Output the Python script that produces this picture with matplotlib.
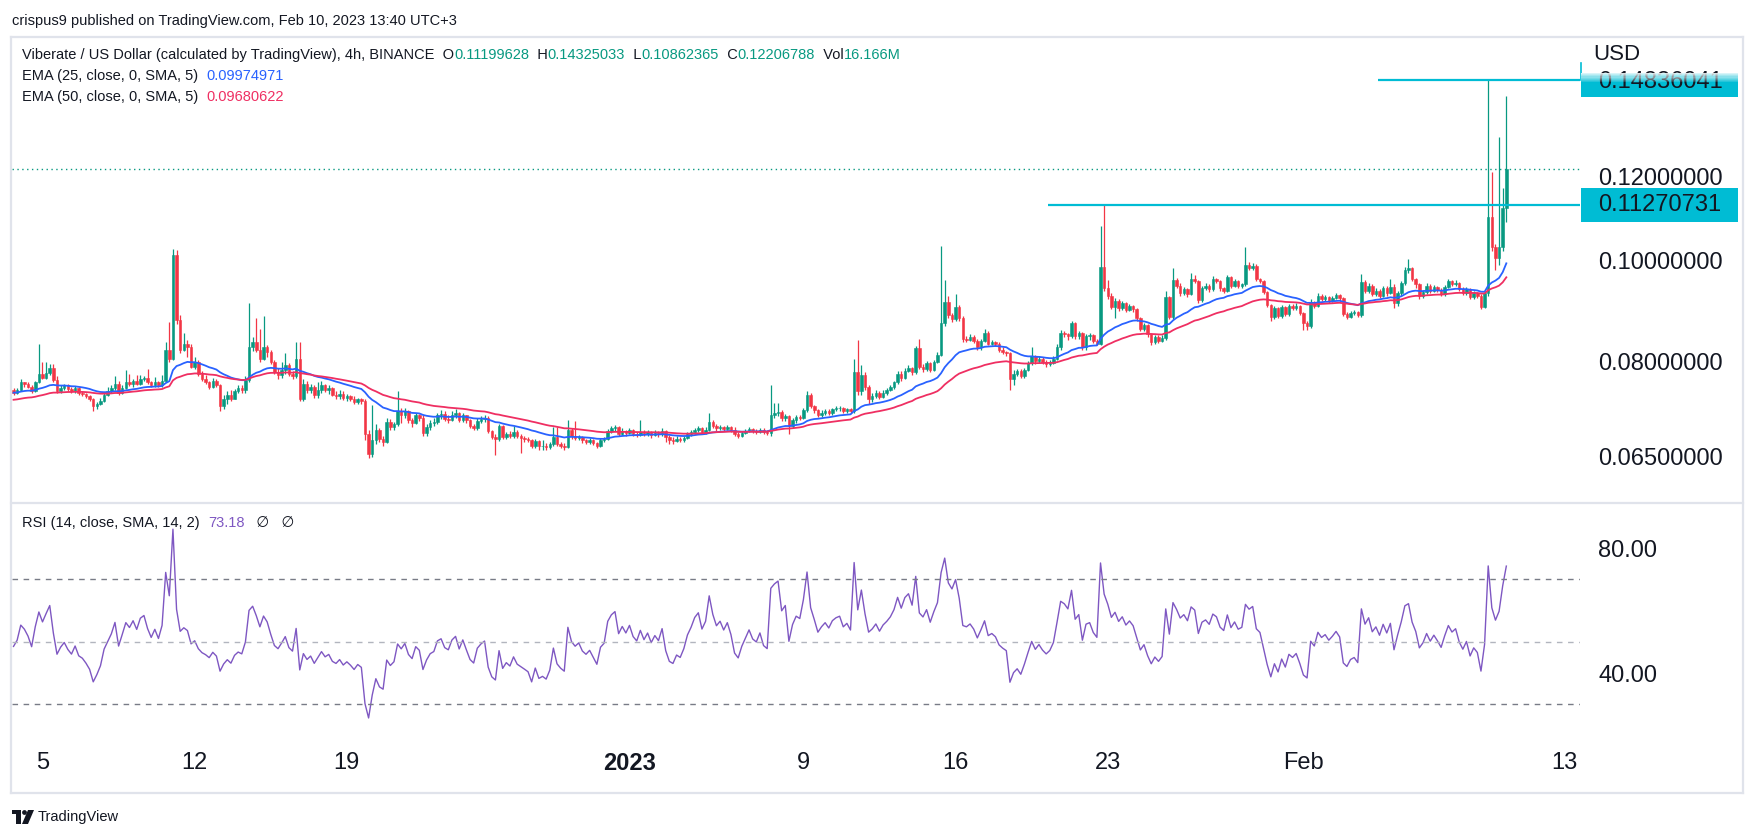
import numpy as np
import pandas as pd
import matplotlib
matplotlib.use("Agg")
import matplotlib.pyplot as plt
from matplotlib import transforms
from matplotlib.patches import Rectangle, Polygon, Circle
from matplotlib.ticker import NullLocator

plt.rcParams['font.family'] = ['Liberation Sans', 'DejaVu Sans']

W, H = 1756, 838

# VIB/USD 4h candles, prices in units of 1e-4 USD (open = previous close)
first_open = 752
close = [748, 753, 766, 763, 758, 750, 766, 780, 773, 781, 789, 769, 750, 756, 760, 754, 750, 756, 748, 746,
         742, 737, 726, 730, 735, 745, 750, 755, 763, 748, 756, 765, 762, 767, 762, 770, 772, 765, 760, 765,
         760, 768, 821, 806, 1011, 877, 822, 833, 826, 792, 800, 780, 770, 765, 758, 768, 760, 726, 738, 745,
         738, 750, 755, 752, 769, 826, 835, 822, 806, 826, 818, 800, 783, 778, 786, 795, 780, 775, 806, 738,
         763, 752, 757, 744, 752, 760, 752, 755, 745, 742, 746, 739, 742, 738, 733, 737, 734, 684, 654, 674,
         690, 676, 672, 702, 694, 698, 718, 712, 718, 705, 700, 712, 708, 685, 694, 700, 702, 712, 714, 706,
         704, 712, 715, 705, 712, 704, 696, 693, 703, 706, 708, 688, 679, 676, 695, 679, 683, 680, 686, 680,
         678, 676, 674, 666, 673, 665, 666, 664, 668, 679, 669, 666, 664, 689, 680, 677, 679, 674, 672, 674,
         670, 666, 674, 676, 688, 692, 694, 684, 688, 685, 689, 684, 682, 687, 683, 686, 682, 685, 683, 688,
         679, 674, 673, 676, 675, 678, 683, 686, 690, 692, 687, 690, 702, 696, 692, 694, 691, 694, 690, 683,
         681, 685, 688, 691, 688, 687, 690, 686, 685, 712, 715, 717, 707, 710, 695, 704, 709, 708, 720, 745,
         727, 720, 712, 716, 719, 716, 721, 723, 724, 719, 721, 718, 782, 750, 778, 757, 738, 742, 748, 741,
         748, 752, 757, 765, 780, 772, 785, 790, 782, 824, 792, 788, 798, 786, 800, 813, 871, 913, 886, 879,
         902, 880, 842, 840, 845, 838, 826, 838, 852, 833, 836, 832, 822, 818, 815, 770, 780, 784, 776, 786,
         798, 810, 801, 806, 800, 796, 799, 806, 826, 852, 850, 846, 871, 846, 852, 826, 846, 848, 838, 833,
         985, 941, 925, 903, 915, 900, 910, 897, 905, 898, 880, 860, 868, 850, 836, 845, 838, 844, 922, 882,
         957, 945, 930, 938, 928, 960, 955, 916, 940, 945, 938, 959, 955, 940, 935, 963, 945, 955, 945, 948,
         989, 983, 988, 960, 955, 932, 906, 883, 900, 885, 902, 888, 905, 900, 905, 890, 871, 866, 912, 905,
         925, 918, 922, 915, 920, 926, 920, 888, 883, 890, 892, 886, 953, 935, 945, 928, 935, 925, 940, 930,
         943, 910, 930, 950, 978, 982, 960, 948, 925, 932, 945, 935, 943, 936, 928, 942, 955, 948, 952, 938,
         930, 938, 922, 930, 925, 903, 930, 1099, 1029, 1004, 1029, 1119.9628, 1220.6788]
high = [755, 756, 770, 766, 766, 760, 768, 833, 800, 800, 797, 797, 775, 760, 763, 762, 758, 759, 757, 751,
        748, 745, 739, 733, 740, 748, 757, 760, 775, 767, 760, 786, 779, 770, 777, 777, 775, 788, 768, 774,
        767, 777, 835, 874, 1024, 1022, 887, 852, 840, 833, 808, 803, 784, 777, 768, 772, 771, 763, 745, 750,
        752, 754, 760, 760, 775, 910, 845, 880, 860, 884, 830, 822, 803, 790, 800, 815, 798, 785, 836, 836,
        770, 768, 762, 760, 765, 768, 763, 760, 758, 750, 752, 750, 746, 745, 742, 740, 740, 737, 690, 728,
        698, 693, 680, 707, 706, 702, 750, 724, 724, 720, 708, 716, 714, 712, 698, 704, 708, 716, 720, 718,
        712, 718, 722, 717, 716, 713, 706, 698, 707, 710, 712, 710, 690, 684, 698, 697, 686, 688, 695, 690,
        684, 681, 679, 676, 676, 675, 675, 670, 672, 694, 694, 672, 670, 704, 692, 703, 682, 680, 676, 677,
        676, 672, 677, 679, 691, 696, 697, 695, 692, 690, 693, 691, 687, 705, 689, 690, 688, 689, 688, 692,
        690, 682, 679, 680, 679, 681, 686, 690, 693, 695, 694, 694, 715, 705, 698, 697, 696, 697, 696, 694,
        686, 688, 691, 694, 693, 691, 693, 692, 690, 761, 731, 731, 720, 714, 712, 708, 713, 712, 724, 750,
        748, 728, 722, 720, 722, 721, 724, 727, 727, 725, 724, 723, 806, 839, 795, 782, 760, 748, 752, 750,
        752, 756, 761, 768, 784, 785, 790, 795, 792, 828, 841, 796, 802, 800, 804, 818, 1031, 957, 925, 890,
        928, 906, 884, 846, 850, 848, 842, 842, 860, 856, 840, 838, 836, 826, 820, 818, 786, 788, 788, 790,
        802, 827, 812, 810, 808, 804, 803, 810, 832, 858, 856, 853, 876, 874, 856, 855, 850, 852, 850, 842,
        1077, 1127.0731, 958, 930, 920, 918, 914, 912, 909, 907, 900, 882, 872, 870, 852, 848, 848, 848, 935, 925,
        983, 962, 950, 942, 940, 972, 968, 958, 945, 950, 948, 965, 962, 958, 942, 968, 966, 960, 958, 952,
        1029, 996, 993, 992, 962, 958, 935, 908, 905, 902, 906, 904, 909, 908, 910, 906, 893, 875, 918, 915,
        930, 928, 926, 924, 924, 930, 928, 922, 892, 894, 896, 894, 970, 958, 950, 948, 940, 938, 945, 944,
        960, 948, 934, 955, 985, 1003, 985, 962, 950, 936, 950, 948, 947, 945, 940, 946, 960, 958, 958, 954,
        942, 942, 940, 934, 933, 928, 934, 1483.6041, 1213, 1035, 1310, 1170, 1432.5033]
low = [745, 746, 750, 757, 755, 748, 749, 764, 770, 771, 778, 766, 747, 748, 753, 751, 747, 748, 745, 743,
       740, 734, 718, 722, 728, 733, 743, 748, 753, 745, 746, 754, 759, 758, 760, 760, 767, 762, 757, 758,
       757, 758, 765, 800, 804, 870, 815, 820, 808, 790, 788, 776, 768, 762, 754, 755, 757, 718, 722, 730,
       735, 737, 748, 748, 748, 765, 820, 818, 800, 803, 808, 797, 780, 770, 772, 780, 775, 770, 772, 735,
       735, 748, 748, 740, 740, 748, 749, 746, 742, 738, 738, 736, 735, 734, 730, 729, 730, 675, 648, 650,
       668, 672, 665, 670, 690, 690, 695, 700, 708, 700, 694, 698, 703, 680, 680, 690, 695, 698, 706, 703,
       700, 703, 708, 702, 702, 700, 693, 690, 690, 700, 702, 685, 676, 653, 673, 676, 676, 677, 678, 677,
       656, 672, 671, 662, 662, 660, 660, 660, 661, 665, 666, 662, 660, 662, 676, 674, 674, 670, 669, 669,
       667, 663, 664, 671, 674, 685, 688, 681, 682, 681, 683, 680, 679, 681, 680, 681, 678, 680, 679, 681,
       672, 668, 669, 671, 672, 671, 676, 681, 684, 687, 684, 684, 688, 693, 688, 689, 688, 689, 686, 680,
       677, 679, 683, 686, 685, 684, 685, 683, 682, 681, 708, 710, 703, 703, 684, 693, 700, 704, 706, 717,
       723, 716, 709, 709, 713, 712, 713, 718, 719, 716, 716, 715, 716, 745, 745, 752, 730, 733, 740, 738,
       739, 745, 750, 754, 762, 768, 770, 782, 778, 780, 788, 783, 785, 782, 784, 798, 810, 866, 880, 874,
       876, 876, 836, 835, 838, 834, 822, 822, 836, 830, 830, 828, 818, 814, 810, 752, 760, 776, 772, 772,
       784, 795, 797, 798, 796, 792, 793, 796, 803, 822, 845, 840, 844, 842, 842, 822, 822, 840, 834, 830,
       830, 935, 918, 898, 880, 895, 896, 892, 894, 893, 876, 856, 856, 845, 830, 832, 834, 835, 840, 878,
       878, 940, 925, 926, 922, 926, 950, 910, 912, 936, 933, 935, 950, 935, 930, 932, 940, 942, 940, 940,
       944, 978, 978, 955, 950, 928, 902, 876, 878, 880, 880, 884, 885, 896, 896, 886, 858, 858, 862, 900,
       903, 914, 914, 911, 912, 918, 915, 884, 879, 880, 886, 882, 883, 930, 930, 924, 925, 920, 922, 925,
       928, 900, 905, 925, 946, 972, 955, 940, 918, 920, 928, 930, 932, 932, 924, 925, 940, 944, 945, 934,
       926, 926, 918, 918, 920, 898, 900, 925, 1020, 978, 990, 1020, 1086.2365]
PRICE_UNIT = 1e-4
last_bar_open = "2023-02-10 08:00"

ema25_start = 0.0748
ema50_start = 0.0736
rsi_start_gain = 0.0005
rsi_start_loss = 0.0005

# drawn horizontal rays
levels = [0.14836041, 0.11270731]
level_from = ["2023-02-04 10:00", "2023-01-20 06:00"]
last_price = 0.12206788

day_ticks = ["2022-12-05", "2022-12-12", "2022-12-19", "2023-01-01", "2023-01-09",
             "2023-01-16", "2023-01-23", "2023-02-01", "2023-02-13"]
day_labels = ["5", "12", "19", "2023", "9", "16", "23", "Feb", "13"]
price_ticks = [0.065, 0.08, 0.10, 0.12]
rsi_ticks = [40, 80]

GREEN = "#089981"
RED = "#f23645"
TXT = "#131722"
CYAN = "#00bcd4"
GRID = "#e0e3eb"

# ---- data prep
c = np.array(close) * PRICE_UNIT
hi = np.array(high) * PRICE_UNIT
lo = np.array(low) * PRICE_UNIT
o = np.concatenate([[first_open * PRICE_UNIT], c[:-1]])
n = len(c)
times = pd.date_range(end=last_bar_open, periods=n, freq="4h")
origin = pd.Timestamp("2022-12-05")
t = np.asarray((times - origin) / pd.Timedelta(days=1))

def ema(x, length, start):
    a = 2.0 / (length + 1)
    out = np.empty(len(x))
    prev = start
    for i, v in enumerate(x):
        prev = prev + a * (v - prev)
        out[i] = prev
    return out

ema25 = ema(c, 25, ema25_start)
ema50 = ema(c, 50, ema50_start)

prev_c = np.concatenate([[o[0]], c[:-1]])
d = c - prev_c
ag, al = rsi_start_gain, rsi_start_loss
rsi = np.empty(n)
for i in range(n):
    ag = (ag * 13 + max(d[i], 0)) / 14
    al = (al * 13 + max(-d[i], 0)) / 14
    rsi[i] = 100 - 100 / (1 + ag / al)

# ---- figure
fig = plt.figure(figsize=(W / 100, H / 100), dpi=100)
fig.patch.set_facecolor("white")
pxT = transforms.Affine2D().scale(1.0 / W, -1.0 / H).translate(0, 1) + fig.transFigure

px_per_day = 21.74
day0_px = 42.5
xlim = ((12 - day0_px) / px_per_day, (1580 - day0_px) / px_per_day)

ax = fig.add_axes([12 / W, 1 - 503 / H, 1568 / W, 465 / H])
ax.set_yscale("log")
ax.set_xlim(*xlim)
ax.set_ylim(0.05875, 0.1626)

up = c >= o
cols = np.where(up, GREEN, RED)
ax.vlines(t, lo, hi, colors=cols, linewidth=0.9, zorder=2)
ax.bar(t, c - o, bottom=o, width=0.115, color=cols, edgecolor=cols, linewidth=0.4, zorder=3)
ax.plot(t, ema25, color="#2962ff", lw=1.3, zorder=4)
ax.plot(t, ema50, color="#ef2f62", lw=1.3, zorder=4)
ax.axhline(last_price, color=GREEN, lw=1.0, ls=(0, (1, 2.5)), zorder=1)

lf = np.asarray((pd.to_datetime(level_from) - origin) / pd.Timedelta(days=1))
ax.hlines(levels, lf, xlim[1], colors=CYAN, lw=1.6, zorder=5)

ax.yaxis.tick_right()
ax.set_yticks(price_ticks)
ax.set_yticklabels([f"{p:.8f}" for p in price_ticks])
ax.yaxis.set_minor_locator(NullLocator())
ax.tick_params(axis="y", length=0, pad=13, labelsize=17, labelcolor=TXT)
ax.set_xticks([])
for s in ax.spines.values():
    s.set_visible(False)

ax2 = fig.add_axes([12 / W, 1 - 740 / H, 1568 / W, 237 / H])
ax2.set_xlim(*xlim)
ax2.set_ylim(18.56, 94.4)
ax2.plot(t, rsi, color="#7e57c2", lw=1.0)
for lvl, colr in [(70, "#787b86"), (50, "#b2b5be"), (30, "#787b86")]:
    ax2.axhline(lvl, color=colr, lw=1.0, ls=(0, (4, 4)))
ax2.yaxis.tick_right()
ax2.set_yticks(rsi_ticks)
ax2.set_yticklabels([f"{v:.2f}" for v in rsi_ticks])
ax2.tick_params(axis="y", length=0, pad=13, labelsize=17, labelcolor=TXT)
ax2.set_xticks([])
for s in ax2.spines.values():
    s.set_visible(False)

# time axis labels
tick_t = np.asarray((pd.to_datetime(day_ticks) - origin) / pd.Timedelta(days=1))
bt = transforms.blended_transform_factory(ax2.transData, pxT)
for tt, lab in zip(tick_t, day_labels):
    ax2.text(tt, 763, lab, transform=bt, ha="center", va="center", fontsize=17, color=TXT,
             fontweight="bold" if lab == "2023" else "normal", clip_on=False)

# frame
for xs, ys in [((11, 1743), (37, 37)), ((11, 1743), (793, 793)), ((11, 11), (37, 793)),
               ((1743, 1743), (37, 793)), ((11, 1743), (503, 503))]:
    fig.add_artist(plt.Line2D(xs, ys, transform=pxT, color=GRID, lw=1.6))

# price labels for rays
fig.canvas.draw()
for k, lvl in enumerate(levels):
    py = H - ax.transData.transform((0, lvl))[1]
    if k == 0:
        top, bot, ty = py - 7, py + 17, py + 2
    else:
        top, bot, ty = py - 17, py + 17, py
    fig.add_artist(Rectangle((1581, top), 157, bot - top, transform=pxT, color=CYAN, lw=0))
    fig.text(1598 / W, 1 - ty / H, f"{lvl:.8f}", fontsize=17, color=TXT, va="center")
    if k == 0:
        for j in range(8):
            fig.add_artist(Rectangle((1581, top + j * 1.2), 157, 1.2, transform=pxT,
                                     color="white", alpha=0.85 - j * 0.1, lw=0, zorder=10))
        fig.add_artist(plt.Line2D((1581, 1581), (63, py), transform=pxT, color=CYAN, lw=1.2))
fig.text(1593 / W, 1 - 54 / H, "USD", fontsize=16, color=TXT, va="center", zorder=11)

# header and legends
fig.text(12 / W, 1 - 21 / H, "crispus9 published on TradingView.com, Feb 10, 2023 13:40 UTC+3",
         fontsize=10.5, color=TXT, va="center")

renderer = fig.canvas.get_renderer()

def chain(x, y, parts, size=10.5):
    for s, colr in parts:
        tx = fig.text(x / W, 1 - y / H, s, fontsize=size, color=colr, va="center")
        bb = tx.get_window_extent(renderer=renderer)
        x += bb.width

chain(22, 55, [("Viberate / US Dollar (calculated by TradingView), 4h, BINANCE  O", TXT),
               ("0.11199628", GREEN), ("  H", TXT), ("0.14325033", GREEN), ("  L", TXT),
               ("0.10862365", GREEN), ("  C", TXT), ("0.12206788", GREEN), ("  Vol", TXT),
               ("16.166M", GREEN)])
chain(22, 76, [("EMA (25, close, 0, SMA, 5)  ", TXT), ("0.09974971", "#2962ff")])
chain(22, 97, [("EMA (50, close, 0, SMA, 5)  ", TXT), ("0.09680622", "#ef2f62")])
chain(22, 523, [("RSI (14, close, SMA, 14, 2)  ", TXT), ("73.18", "#7e57c2"), ("   \u2205   \u2205", TXT)])

# TradingView logo
fig.add_artist(Rectangle((12, 810), 9, 4, transform=pxT, color=TXT, lw=0))
fig.add_artist(Rectangle((16, 810), 5, 14, transform=pxT, color=TXT, lw=0))
fig.add_artist(Circle((24.5, 812.5), 2.4, transform=pxT, color=TXT, lw=0))
fig.add_artist(Polygon([(28, 810), (34, 810), (28, 824), (22, 824)], transform=pxT, color=TXT, lw=0))
fig.text(38 / W, 1 - 817 / H, "TradingView", fontsize=10.5, color=TXT, va="center")

fig.savefig("out.png", dpi=100, facecolor="white")
